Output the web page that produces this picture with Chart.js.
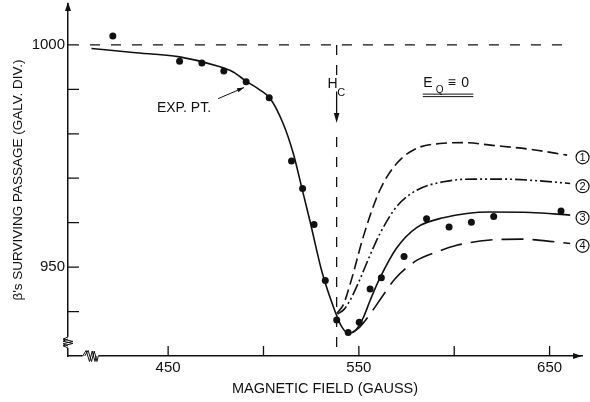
<!DOCTYPE html>
<html>
<head>
<meta charset="utf-8">
<script src="https://cdn.jsdelivr.net/npm/chart.js@4"></script>
<style>
  body { margin: 0; background: #fff; }
</style>
</head>
<body>
<canvas id="myChart" width="590" height="402"></canvas>
<script>
// measured points (field in gauss, counts in galv. div.)
const expField = [421, 456, 467.7, 479.2, 490.9, 503, 514.7, 520.5, 526.5, 532.4, 538.4, 544.4, 550.2, 555.9, 561.8, 573.7, 585.5, 597.3, 609, 620.7, 656];
const expCount = [1002, 996.3, 995.9, 994.1, 991.7, 988.1, 973.9, 967.7, 959.6, 947, 938.1, 935.3, 937.6, 945.1, 947.6, 952.4, 960.9, 959, 960.1, 961.4, 962.6];

// curve 3 - solid, through the points
const c3Field = [409.8, 431.6, 456, 475.4, 484.1, 491, 498, 503.4, 510.3, 515.6, 520, 524.3, 530.5, 537.4, 541, 544.5, 548.5, 552.3, 556, 561, 569.8, 580.3, 594.3, 618.8, 640, 660.8];
const c3Count = [999.2, 998.3, 997.3, 995.3, 993.9, 991.8, 989.9, 988, 982.3, 975.6, 968, 960.5, 949.2, 940.2, 936.6, 935.1, 935.9, 938.6, 942.6, 947.5, 954.3, 958.9, 961.1, 962.4, 962.3, 961.7];

// curve 1 - dashed
const c1Field = [538.5, 541.8, 546.2, 552.3, 561, 569.8, 580.3, 592.5, 605, 620, 640, 659.2];
const c1Count = [939.6, 941.5, 947.3, 956.8, 967.3, 973.3, 976.7, 977.8, 978, 977.4, 976.5, 975.2];

// curve 2 - dash dot dot
const c2Field = [538.8, 542.5, 546, 550.6, 556, 561, 569.8, 580.3, 594.3, 610, 625, 645, 660.8];
const c2Count = [939.4, 940.6, 943, 947.3, 952.8, 957.5, 963.6, 967.3, 969.2, 969.8, 969.8, 969.4, 968.8];

// curve 4 - long dashes
const c4Field = [546.5, 550, 555, 562, 569, 580.3, 590.8, 601.3, 618.8, 635, 648, 660.8];
const c4Count = [935.2, 936.3, 938.9, 943.2, 947.4, 951.5, 953.4, 954.9, 956.1, 956.3, 955.9, 955.3];

// curve labels at the right end
const curveNames = ['1', '2', '3', '4'];
const curveLabelCount = [974.7, 968.2, 961.1, 954.8];

// axes
const xTicks = [450, 500, 550, 600, 650];
const xTickLabels = [450, 550, 650];
const yTicks = [940, 950, 960, 970, 980, 990, 1000];
const yTickLabels = [950, 1000];

// critical field and reference level
const hcField = 538.35;
const refLevel = 1000;

const ink = '#111';

function pts(xs, ys) {
  return xs.map((x, i) => ({ x: x, y: ys[i] }));
}

function arrowHead(ctx, x1, y1, x2, y2, len, half) {
  const a = Math.atan2(y2 - y1, x2 - x1);
  const c = Math.cos(a), s = Math.sin(a);
  ctx.beginPath();
  ctx.moveTo(x2, y2);
  ctx.lineTo(x2 - len * c + half * s, y2 - len * s - half * c);
  ctx.lineTo(x2 - len * c - half * s, y2 - len * s + half * c);
  ctx.closePath();
  ctx.fill();
}

const decor = {
  id: 'decor',
  afterDraw(chart) {
    const ctx = chart.ctx;
    const xs = chart.scales.x, ys = chart.scales.y;
    const px = v => xs.getPixelForValue(v);
    const py = v => ys.getPixelForValue(v);
    const area = chart.chartArea;
    ctx.save();
    ctx.strokeStyle = ink;
    ctx.fillStyle = ink;
    ctx.lineWidth = 1.3;

    // inward tick marks
    ctx.beginPath();
    xs.ticks.forEach(t => {
      ctx.moveTo(px(t.value), area.bottom);
      ctx.lineTo(px(t.value), area.bottom - 10);
    });
    ys.ticks.forEach(t => {
      ctx.moveTo(area.left, py(t.value));
      ctx.lineTo(area.left + 11, py(t.value));
    });
    ctx.stroke();

    // axis arrows
    arrowHead(ctx, area.left, area.top + 20, area.left, area.top - 2, 9, 3);
    arrowHead(ctx, area.right - 20, area.bottom, area.right, area.bottom, 9, 3);

    // axis breaks
    const yb1 = py(934.3), yb2 = py(931.8);
    ctx.fillStyle = '#fff';
    ctx.fillRect(area.left - 3, yb1, 6, yb2 - yb1);
    const xb1 = px(405.2), xb2 = px(413.4);
    ctx.fillRect(xb1, area.bottom - 3, xb2 - xb1, 6);
    ctx.fillStyle = ink;
    ctx.lineWidth = 1;
    const h = yb2 - yb1 - 2;
    [0, 2].forEach(d => {
      ctx.beginPath();
      ctx.moveTo(area.left, yb1 + d);
      ctx.lineTo(area.left - 5, yb1 + d + h * 0.25);
      ctx.lineTo(area.left + 5, yb1 + d + h * 0.5);
      ctx.lineTo(area.left - 5, yb1 + d + h * 0.75);
      ctx.lineTo(area.left, yb1 + d + h);
      ctx.stroke();
    });
    const w = xb2 - xb1 - 2;
    [0, 2].forEach(d => {
      ctx.beginPath();
      ctx.moveTo(xb1 + d, area.bottom);
      ctx.lineTo(xb1 + d + w * 0.25, area.bottom - 5.5);
      ctx.lineTo(xb1 + d + w * 0.5, area.bottom + 5.5);
      ctx.lineTo(xb1 + d + w * 0.7, area.bottom - 5);
      ctx.lineTo(xb1 + d + w * 0.9, area.bottom + 5.5);
      ctx.lineTo(xb1 + d + w, area.bottom);
      ctx.stroke();
    });

    // H_c arrow head and label
    const lx = px(hcField);
    arrowHead(ctx, lx, py(989.5), lx, py(982.4), 10, 2.8);
    ctx.font = '14px "Liberation Sans", Arial, sans-serif';
    ctx.textAlign = 'right';
    ctx.textBaseline = 'alphabetic';
    ctx.fillText('H', lx + 1, py(990.4));
    ctx.font = '11px "Liberation Sans", Arial, sans-serif';
    ctx.textAlign = 'left';
    ctx.fillText('C', lx + 0.5, py(988.4));

    // EXP. PT. label and arrow
    ctx.font = '14px "Liberation Sans", Arial, sans-serif';
    ctx.fillText('EXP. PT.', px(444.1), py(984.9));
    ctx.lineWidth = 1;
    ctx.beginPath();
    ctx.moveTo(px(476.2), py(987.9));
    ctx.lineTo(px(489.8), py(990.4));
    ctx.stroke();
    arrowHead(ctx, px(476.2), py(987.9), px(489.8), py(990.4), 7, 2.2);

    // E_Q = 0 label
    const ex = px(583.8), ey = py(990.5);
    ctx.font = '14px "Liberation Sans", Arial, sans-serif';
    ctx.fillText('E', ex, ey);
    ctx.font = '10px "Liberation Sans", Arial, sans-serif';
    ctx.fillText('Q', ex + 12.5, ey + 6);
    ctx.font = '14px "Liberation Sans", Arial, sans-serif';
    ctx.fillText('\u2261', ex + 24.5, ey);
    ctx.fillText('0', ex + 38, ey);
    ctx.lineWidth = 1;
    ctx.beginPath();
    ctx.moveTo(ex - 0.5, ey + 7); ctx.lineTo(ex + 50, ey + 7);
    ctx.moveTo(ex - 0.5, ey + 9.5); ctx.lineTo(ex + 50, ey + 9.5);
    ctx.stroke();

    // circled curve numbers
    ctx.font = '11px "Liberation Sans", Arial, sans-serif';
    ctx.textAlign = 'center';
    ctx.textBaseline = 'middle';
    ctx.lineWidth = 1.2;
    curveNames.forEach((n, i) => {
      const cx = px(667.3), cy = py(curveLabelCount[i]);
      ctx.beginPath();
      ctx.arc(cx, cy, 6.5, 0, Math.PI * 2);
      ctx.stroke();
      ctx.fillText(n, cx, cy + 0.5);
    });
    ctx.restore();
  }
};

Chart.defaults.font.family = '"Liberation Sans", Arial, sans-serif';
Chart.defaults.color = ink;

const lineBase = {
  showLine: true,
  pointRadius: 0,
  borderColor: ink,
  borderWidth: 1.6,
  fill: false,
  cubicInterpolationMode: 'monotone'
};

try {
  const ctx = document.getElementById('myChart');
  new Chart(ctx, {
    type: 'scatter',
    data: {
      datasets: [
        Object.assign({}, lineBase, { data: pts(c3Field, c3Count) }),
        Object.assign({}, lineBase, { data: pts(c1Field, c1Count), borderDash: [11, 5] }),
        Object.assign({}, lineBase, { data: pts(c2Field, c2Count), borderDash: [12, 3, 2, 3, 2, 3] }),
        Object.assign({}, lineBase, { data: pts(c4Field, c4Count), borderDash: [22, 9] }),
        {
          data: [{ x: 409, y: refLevel }, { x: 661.7, y: refLevel }],
          showLine: true, pointRadius: 0, borderColor: ink, borderWidth: 1.3, borderDash: [10, 11]
        },
        {
          data: [{ x: hcField, y: refLevel }, { x: hcField, y: 993.2 }, { x: hcField, y: null },
                 { x: hcField, y: 979.3 }, { x: hcField, y: 930.8 }],
          showLine: true, spanGaps: false, pointRadius: 0, borderColor: ink, borderWidth: 1.3, borderDash: [10, 10]
        },
        {
          data: [{ x: hcField, y: 989.5 }, { x: hcField, y: 984 }],
          showLine: true, pointRadius: 0, borderColor: ink, borderWidth: 1.3
        },
        {
          data: pts(expField, expCount),
          pointRadius: 3.5,
          pointBackgroundColor: ink,
          pointBorderWidth: 0
        }
      ]
    },
    options: {
      responsive: false,
      animation: false,
      devicePixelRatio: 1,
      layout: { padding: { top: 4, right: 8, left: 0, bottom: 0 } },
      plugins: { legend: { display: false }, tooltip: { enabled: false } },
      scales: {
        x: {
          type: 'linear',
          min: 397.5,
          max: 667,
          grid: { display: false, drawTicks: false },
          border: { color: ink, width: 1.5 },
          afterBuildTicks: s => { s.ticks = xTicks.map(v => ({ value: v })); },
          afterFit: s => { s.height = 46; s.paddingLeft = 0; s.paddingRight = 0; },
          ticks: {
            padding: 3,
            maxRotation: 0,
            font: { size: 15 },
            callback: v => xTickLabels.includes(v) ? String(v) : ''
          },
          title: {
            display: true,
            text: 'MAGNETIC FIELD (GAUSS)',
            font: { size: 14.5 },
            padding: { top: 0, bottom: 4 }
          }
        },
        y: {
          type: 'linear',
          min: 930,
          max: 1009.2,
          grid: { display: false, drawTicks: false },
          border: { color: ink, width: 1.5 },
          afterBuildTicks: s => { s.ticks = yTicks.map(v => ({ value: v })); },
          afterFit: s => { s.width = 68; s.paddingTop = 0; s.paddingBottom = 0; },
          ticks: {
            padding: 3,
            font: { size: 15 },
            callback: v => yTickLabels.includes(v) ? String(v) : ''
          },
          title: {
            display: true,
            text: "\u03b2's SURVIVING PASSAGE (GALV. DIV.)",
            font: { size: 13.5 },
            padding: { top: 10, bottom: 0 }
          }
        }
      }
    },
    plugins: [decor]
  });
} catch (error) {
  console.log(error);
}
</script>
</body>
</html>
